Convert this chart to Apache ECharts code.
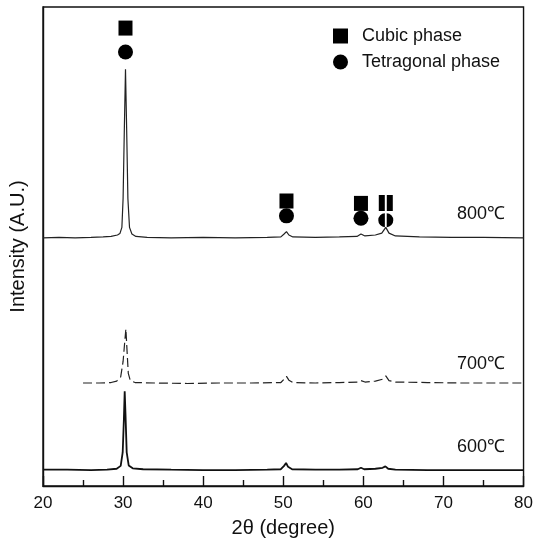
<!DOCTYPE html>
<html>
<head>
<meta charset="utf-8">
<script src="https://cdn.jsdelivr.net/npm/echarts@6/dist/echarts.min.js"></script>
<style>html,body{margin:0;padding:0;background:#fff;}#c{width:536px;height:549px;}</style>
</head>
<body>
<div id="c"></div>
<script>
// ---- data ----
var xTicks = [20, 30, 40, 50, 60, 70, 80];

var x800 = [20, 22, 24, 26, 27.5, 28.5, 29.3, 29.6, 29.85, 30.0, 30.15, 30.3, 30.45, 30.6, 30.8, 31.1, 31.6, 33, 36, 40, 44, 48, 49.7, 50.1, 50.4, 50.7, 51.2, 54, 57, 59.2, 59.7, 60.2, 61.5, 62.3, 62.8, 63.2, 64, 67, 71, 75, 80];
var y800 = [51.8, 51.9, 51.8, 51.9, 52.0, 52.1, 52.4, 52.7, 54.0, 60, 74, 87, 74, 60, 54, 52.6, 52.1, 51.9, 51.8, 51.9, 51.8, 51.9, 52.0, 52.6, 53.1, 52.4, 52.0, 51.9, 52.0, 52.1, 52.6, 52.2, 52.4, 52.8, 54.0, 52.8, 52.2, 52.0, 51.9, 51.9, 51.8];

var x700 = [25, 27, 28.5, 29.2, 29.7, 30.0, 30.2, 30.35, 30.5, 30.65, 30.9, 31.5, 34, 38, 42, 46, 49.7, 50.1, 50.4, 50.7, 51.2, 54, 57, 59.3, 59.7, 60.2, 61.5, 62.4, 62.8, 63.2, 64, 68, 72, 76, 80];
var y700 = [21.5, 21.5, 21.6, 21.9, 22.8, 26, 30, 32.8, 28, 23.5, 22.0, 21.6, 21.5, 21.4, 21.5, 21.5, 21.6, 22.3, 22.9, 22.1, 21.6, 21.5, 21.6, 21.7, 22.0, 21.7, 21.9, 22.3, 23.0, 22.0, 21.7, 21.6, 21.5, 21.5, 21.5];

var x600 = [20, 23, 26, 28, 29.2, 29.7, 29.95, 30.1, 30.2, 30.3, 30.45, 30.7, 31.2, 32.5, 36, 40, 44, 48, 49.7, 50.1, 50.35, 50.6, 51.1, 54, 57, 59.3, 59.7, 60.1, 61.5, 62.4, 62.75, 63.1, 64, 68, 72, 76, 80];
var y600 = [3.4, 3.4, 3.3, 3.4, 3.6, 4.2, 7, 14, 19.8, 15, 7, 4.3, 3.7, 3.5, 3.4, 3.3, 3.3, 3.4, 3.5, 4.2, 4.8, 4.0, 3.5, 3.4, 3.4, 3.5, 3.8, 3.5, 3.6, 3.8, 4.1, 3.6, 3.4, 3.3, 3.3, 3.3, 3.3];

var cubicX = [30.3, 50.4, 59.7, 62.8];
var cubicY = [95.6, 59.5, 59.0, 59.1];
var tetraX = [30.3, 50.4, 59.7, 62.8];
var tetraY = [90.6, 56.4, 55.9, 55.5];

var tempLabels = ['800℃', '700℃', '600℃'];

// ---- build ----
function pairs(xs, ys) { return xs.map(function (x, i) { return [x, ys[i]]; }); }
var splitSquare = 'path://M0,0H6V15H0Z M8,0H14V15H8Z';
var splitCircle = 'path://M6.5,0 A7,7 0 0 0 6.5,14 Z M8.5,0 A7,7 0 0 1 8.5,14 Z';

var cubicData = pairs(cubicX, cubicY).map(function (p, i) {
  return i === 3 ? { value: p, symbol: splitSquare, symbolSize: [14, 16] } : { value: p };
});
var tetraData = pairs(tetraX, tetraY).map(function (p, i) {
  return i === 3 ? { value: p, symbol: splitCircle, symbolSize: [15, 14] } : { value: p };
});

var FONT = 'Liberation Sans, Arial, sans-serif';
var chart = echarts.init(document.getElementById('c'), null, { renderer: 'canvas' });
chart.setOption({
  animation: false,
  backgroundColor: '#fff',
  grid: { left: 43, right: 11, top: 7, bottom: 63, show: true, borderColor: '#111', borderWidth: 1.4, backgroundColor: 'transparent' },
  legend: {
    data: ['Cubic phase', 'Tetragonal phase'],
    orient: 'vertical',
    left: 333, top: 27, padding: 0,
    itemWidth: 15, itemHeight: 15, itemGap: 8,
    itemStyle: { opacity: 1 },
    textStyle: { fontFamily: FONT, fontSize: 18, color: '#111', padding: [0, 0, 0, 9] }
  },
  xAxis: {
    type: 'value', min: 20, max: 80, interval: 10,
    axisLine: { lineStyle: { color: '#111', width: 1.4 } },
    axisTick: { inside: true, length: 10, lineStyle: { color: '#111', width: 1.4 } },
    minorTick: { show: true, splitNumber: 2, length: 6, lineStyle: { color: '#111', width: 1.4 } },
    splitLine: { show: false },
    axisLabel: { fontFamily: FONT, fontSize: 17, color: '#111', margin: 9 },
    name: '2θ (degree)', nameLocation: 'middle', nameGap: 32,
    nameTextStyle: { fontFamily: FONT, fontSize: 20, color: '#111' }
  },
  yAxis: {
    type: 'value', min: 0, max: 100,
    axisLine: { show: true, lineStyle: { color: '#111', width: 1.4 } },
    axisTick: { show: false }, axisLabel: { show: false }, splitLine: { show: false },
    name: 'Intensity (A.U.)', nameLocation: 'middle', nameGap: 15,
    nameTextStyle: { fontFamily: FONT, fontSize: 20, color: '#111' }
  },
  series: [
    { name: '800', type: 'line', data: pairs(x800, y800), showSymbol: false, lineStyle: { color: '#222', width: 1.2 }, z: 2 },
    { name: '700', type: 'line', data: pairs(x700, y700), showSymbol: false, lineStyle: { color: '#222', width: 1.2, type: [9, 4] }, z: 2 },
    { name: '600', type: 'line', data: pairs(x600, y600), showSymbol: false, lineStyle: { color: '#111', width: 1.8 }, z: 2 },
    { name: 'Cubic phase', type: 'scatter', symbol: 'rect', symbolSize: [14, 15], data: cubicData, itemStyle: { color: '#000', opacity: 1 }, z: 3 },
    { name: 'Tetragonal phase', type: 'scatter', symbol: 'circle', symbolSize: 15, data: tetraData, itemStyle: { color: '#000', opacity: 1 }, z: 3 }
  ],
  graphic: [
    { type: 'text', left: 457, top: 205, style: { text: tempLabels[0], font: '18px ' + FONT, fill: '#111' } },
    { type: 'text', left: 457, top: 355, style: { text: tempLabels[1], font: '18px ' + FONT, fill: '#111' } },
    { type: 'text', left: 457, top: 438, style: { text: tempLabels[2], font: '18px ' + FONT, fill: '#111' } }
  ]
});
</script>
</body>
</html>
